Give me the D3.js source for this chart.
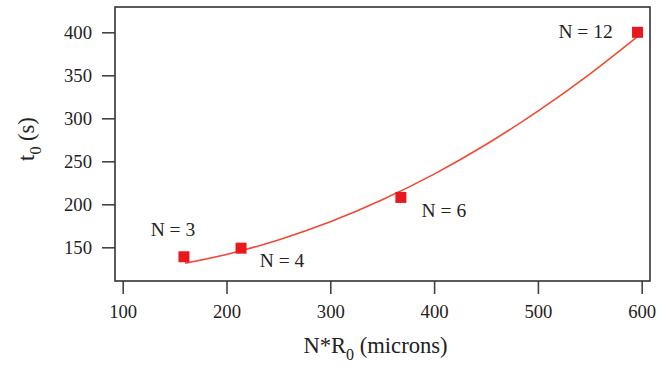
<!DOCTYPE html>
<html>
<head>
<meta charset="utf-8">
<script src="https://cdn.jsdelivr.net/npm/d3@7"></script>
<style>
body { margin: 0; background: #fff; }
text { font-family: "Liberation Serif", "DejaVu Serif", serif; fill: #222; }
</style>
</head>
<body>
<div id="chart"></div>
<script>
var width = 669,
	height = 375;

// measured points
var labels = ["N = 3", "N = 4", "N = 6", "N = 12"];
var nr0 = [159, 214, 368, 596];
var t0 = [139, 149, 208, 400];

// fitted curve
var fitX = [160, 200, 250, 300, 350, 400, 450, 500, 550, 596];
var fitY = [131.4, 141.7, 158.5, 179.6, 205.2, 235.1, 269.5, 308.3, 351.4, 394.9];

var xTicks = [100, 200, 300, 400, 500, 600];
var yTicks = [150, 200, 250, 300, 350, 400];

// label offsets (pixels) for the N = ... annotations
var labelDx = [-11, 41, 43, -52],
	labelDy = [-28, 12.5, 13, -1];

var box = {left: 115, right: 650, top: 7, bottom: 281};

var x = d3.scaleLinear().domain([100, 600]).range([122.7, 641.7]);
var y = d3.scaleLinear().domain([150, 400]).range([247.3, 32.3]);

var svg = d3.select("#chart").append("svg")
	.attr("width", width)
	.attr("height", height);

// x axis
var xAxis = svg.append("g")
	.attr("transform", "translate(0," + box.bottom + ")")
	.call(d3.axisBottom(x).tickValues(xTicks).tickSize(13).tickPadding(11).tickFormat(d3.format("d")));
xAxis.select(".domain").remove();
xAxis.selectAll("line").attr("stroke", "#444").attr("stroke-width", 1.6);
xAxis.selectAll("text").attr("font-size", 18.7).attr("fill", "#222")
	.style("font-family", "Liberation Serif");

// y axis
var yAxis = svg.append("g")
	.attr("transform", "translate(" + box.left + ",0)")
	.call(d3.axisLeft(y).tickValues(yTicks).tickSize(13).tickPadding(10).tickFormat(d3.format("d")));
yAxis.select(".domain").remove();
yAxis.selectAll("line").attr("stroke", "#444").attr("stroke-width", 1.6);
yAxis.selectAll("text").attr("font-size", 18.7).attr("fill", "#222")
	.style("font-family", "Liberation Serif");

// frame
svg.append("rect")
	.attr("x", box.left)
	.attr("y", box.top)
	.attr("width", box.right - box.left)
	.attr("height", box.bottom - box.top)
	.attr("fill", "none")
	.attr("stroke", "#333")
	.attr("stroke-width", 1.6);

// fit line
var line = d3.line()
	.x(function(d, i) { return x(fitX[i]); })
	.y(function(d, i) { return y(fitY[i]); })
	.curve(d3.curveMonotoneX);

svg.append("path")
	.datum(fitX)
	.attr("d", line)
	.attr("fill", "none")
	.attr("stroke", "#f04a32")
	.attr("stroke-width", 1.6);

// squares
var size = 11;
svg.append("g")
	.selectAll("rect")
	.data(nr0)
	.enter()
	.append("rect")
	.attr("x", function(d) { return x(d) - size / 2; })
	.attr("y", function(d, i) { return y(t0[i]) - size / 2; })
	.attr("width", size)
	.attr("height", size)
	.attr("fill", "#e8181e");

// point labels
svg.append("g")
	.selectAll("text")
	.data(labels)
	.enter()
	.append("text")
	.attr("x", function(d, i) { return x(nr0[i]) + labelDx[i]; })
	.attr("y", function(d, i) { return y(t0[i]) + labelDy[i]; })
	.attr("dy", "0.35em")
	.attr("text-anchor", "middle")
	.attr("font-size", 19.5)
	.text(function(d) { return d; });

// axis titles
var xt = svg.append("text")
	.attr("x", 375.5)
	.attr("y", 353.3)
	.attr("text-anchor", "middle")
	.attr("font-size", 22.6);
xt.append("tspan").text("N*R");
xt.append("tspan").attr("font-size", 16).attr("dy", 7).text("0");
xt.append("tspan").attr("dy", -7).text(" (microns)");

var yt = svg.append("text")
	.attr("transform", "translate(34,139) rotate(-90)")
	.attr("text-anchor", "middle")
	.attr("font-size", 22.6);
yt.append("tspan").text("t");
yt.append("tspan").attr("font-size", 16).attr("dy", 7).text("0");
yt.append("tspan").attr("dy", -7).text(" (s)");
</script>
</body>
</html>
